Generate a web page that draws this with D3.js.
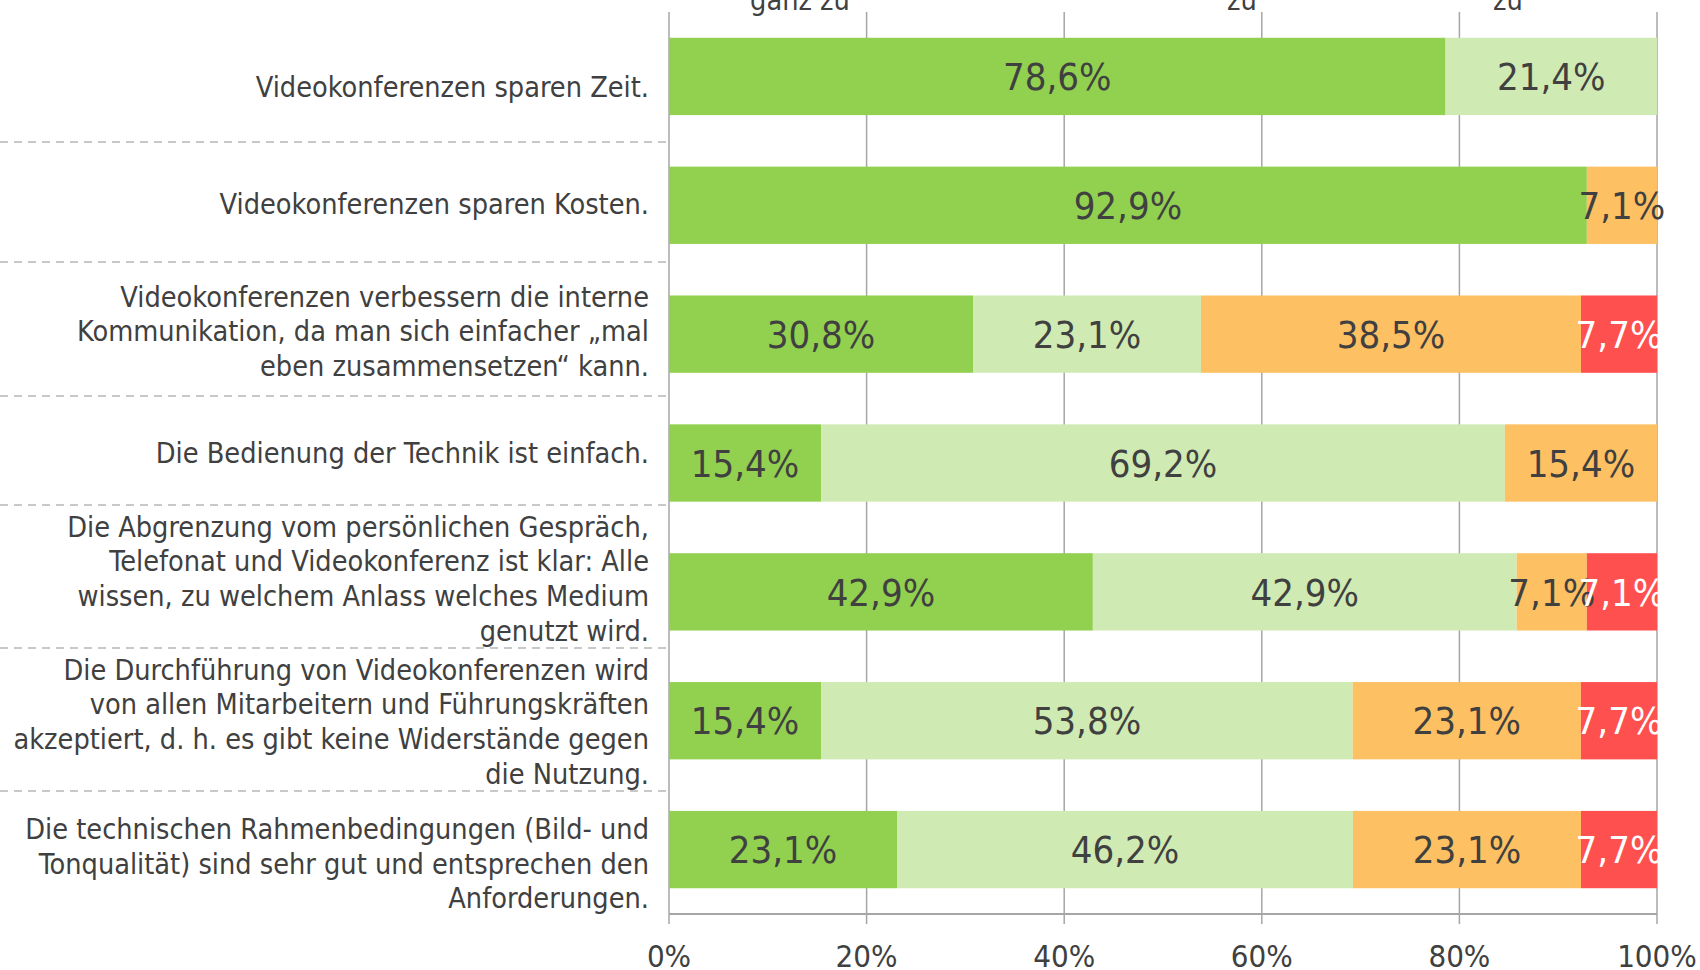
<!DOCTYPE html>
<html>
<head>
<meta charset="utf-8">
<script src="https://cdn.jsdelivr.net/npm/d3@7"></script>
<style>
  body { margin: 0; background: #fff; }
  svg { display: block; }
  text { font-family: "DejaVu Sans Condensed", "DejaVu Sans", sans-serif; fill: #404040; }
</style>
</head>
<body>
<div id="chart"></div>
<script>
// Aussagen (Zeilenumbrüche wie im Original)
const categories = [
  ["Videokonferenzen sparen Zeit."],
  ["Videokonferenzen sparen Kosten."],
  ["Videokonferenzen verbessern die interne", "Kommunikation, da man sich einfacher „mal", "eben zusammensetzen“ kann."],
  ["Die Bedienung der Technik ist einfach."],
  ["Die Abgrenzung vom persönlichen Gespräch,", "Telefonat und Videokonferenz ist klar: Alle", "wissen, zu welchem Anlass welches Medium", "genutzt wird."],
  ["Die Durchführung von Videokonferenzen wird", "von allen Mitarbeitern und Führungskräften", "akzeptiert, d. h. es gibt keine Widerstände gegen", "die Nutzung."],
  ["Die technischen Rahmenbedingungen (Bild- und", "Tonqualität) sind sehr gut und entsprechen den", "Anforderungen."]
];

// Anteile in % je Antwortstufe
const trifftGanzZu   = [78.6, 92.9, 30.8, 15.4, 42.9, 15.4, 23.1];
const trifftEherZu   = [21.4, 0,    23.1, 69.2, 42.9, 53.8, 46.2];
const eherNicht      = [0,    7.1,  38.5, 15.4, 7.1,  23.1, 23.1];
const garNicht       = [0,    0,    7.7,  0,    7.1,  7.7,  7.7];

const tickLabels = ["0%", "20%", "40%", "60%", "80%", "100%"];
const headerLabels = ["ganz zu", "zu", "zu"]; // nur die unterste Zeile ist im Bild sichtbar

const seriesKeys = ["s1", "s2", "s3", "s4"];
const colors = ["#92d050", "#d0eab3", "#fdc063", "#ff5050"];
const labelColors = ["#404040", "#404040", "#404040", "#ffffff"];

const W = 1700, H = 970;
const plot = { left: 669, right: 1657, top: 12, bottom: 914 };

// Zellgrenzen der Beschriftungstabelle links (gestrichelt)
const cellEdges = [27, 142, 262, 396, 505, 648, 791, 932];
const headerX = [800, 1242, 1508];

const rows = categories.map((c, i) => ({
  idx: i,
  s1: trifftGanzZu[i], s2: trifftEherZu[i], s3: eherNicht[i], s4: garNicht[i]
}));

const stacked = d3.stack().keys(seriesKeys).offset(d3.stackOffsetExpand)(rows);

const x = d3.scaleLinear().domain([0, 1]).range([plot.left, plot.right]);
const y = d3.scaleBand().domain(d3.range(categories.length))
  .range([plot.top, plot.bottom]).paddingInner(0.4).paddingOuter(0.2);

const svg = d3.select("#chart").append("svg").attr("width", W).attr("height", H);

// Gitterlinien
svg.append("g")
  .selectAll("line")
  .data(x.ticks(5))
  .join("line")
  .attr("x1", d => x(d)).attr("x2", d => x(d))
  .attr("y1", plot.top).attr("y2", plot.bottom + 10)
  .attr("stroke", "#a6a6a6").attr("stroke-width", 1.5);

// Kopfzeile (abgeschnitten)
svg.append("g")
  .selectAll("text")
  .data(headerLabels)
  .join("text")
  .attr("x", (d, i) => headerX[i])
  .attr("y", 10)
  .attr("text-anchor", "middle")
  .attr("font-size", 28.6)
  .text(d => d);

// gestrichelte Trennlinien
svg.append("g")
  .selectAll("line")
  .data(cellEdges.slice(1, -1))
  .join("line")
  .attr("x1", 0).attr("x2", plot.left)
  .attr("y1", d => d).attr("y2", d => d)
  .attr("stroke", "#c8c8c8").attr("stroke-width", 2)
  .attr("stroke-dasharray", "8,6");

// Balken
const layers = svg.append("g")
  .selectAll("g")
  .data(stacked)
  .join("g")
  .attr("fill", (d, i) => colors[i]);

layers.selectAll("rect")
  .data(d => d.filter(p => p[1] - p[0] > 0))
  .join("rect")
  .attr("x", d => x(d[0]))
  .attr("width", d => x(d[1]) - x(d[0]))
  .attr("y", d => y(d.data.idx))
  .attr("height", y.bandwidth());

// Achsenlinie unten
svg.append("line")
  .attr("x1", plot.left).attr("x2", plot.right)
  .attr("y1", plot.bottom).attr("y2", plot.bottom)
  .attr("stroke", "#a6a6a6").attr("stroke-width", 2);

// Wertebeschriftungen
const fmt = v => d3.format(".1f")(v).replace(".", ",") + "%";
stacked.forEach((layer, li) => {
  const key = seriesKeys[li];
  svg.append("g")
    .selectAll("text")
    .data(layer.filter(p => p[1] - p[0] > 0))
    .join("text")
    .attr("x", d => (x(d[0]) + x(d[1])) / 2)
    .attr("y", d => y(d.data.idx) + y.bandwidth() / 2)
    .attr("dy", "0.36em")
    .attr("text-anchor", "middle")
    .attr("font-size", 38)
    .style("fill", labelColors[li])
    .text(d => fmt(d.data[key]));
});

// Tick-Beschriftungen
svg.append("g")
  .selectAll("text")
  .data(x.ticks(5))
  .join("text")
  .attr("x", d => x(d))
  .attr("y", 967)
  .attr("text-anchor", "middle")
  .attr("font-size", 31)
  .text((d, i) => tickLabels[i]);

// Kategorienbeschriftungen links
const lineH = 34.7;
svg.append("g")
  .selectAll("text")
  .data(categories)
  .join("text")
  .attr("text-anchor", "end")
  .attr("font-size", 28.6)
  .each(function (lines, i) {
    const cy = (cellEdges[i] + cellEdges[i + 1]) / 2 + 2;
    const y0 = cy - (lines.length - 1) * lineH / 2;
    d3.select(this).selectAll("tspan")
      .data(lines)
      .join("tspan")
      .attr("x", 649)
      .attr("y", (d, j) => y0 + j * lineH)
      .attr("dy", "0.36em")
      .text(d => d);
  });
</script>
</body>
</html>
